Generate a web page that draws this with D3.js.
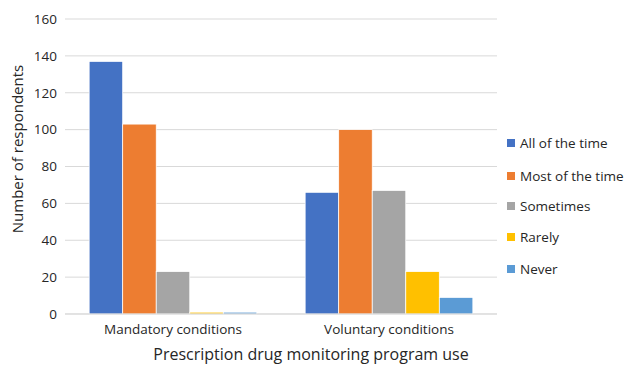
<!DOCTYPE html>
<html><head><meta charset="utf-8">
<script src="https://cdn.jsdelivr.net/npm/d3@7"></script>
<style>body{margin:0;background:#fff;} text{font-family:"Open Sans","Noto Sans",sans-serif;fill:#262626;}</style>
</head><body>
<svg id="c" width="628" height="367"></svg>
<script>
const categories = ["Mandatory conditions", "Voluntary conditions"];
const seriesNames = ["All of the time", "Most of the time", "Sometimes", "Rarely", "Never"];
const colors = ["#4472c4", "#ed7d31", "#a5a5a5", "#ffc000", "#5b9bd5"];
const values = [
  [137, 66],
  [103, 100],
  [23, 67],
  [1, 23],
  [1, 9]
];
const yTicks = [0, 20, 40, 60, 80, 100, 120, 140, 160];

const svg = d3.select("#c");
const m = {l: 65, r: 131, t: 19, b: 53};
const W = 628, H = 367;
const x0 = d3.scaleBand().domain(categories).range([m.l, W - m.r]);
const x1 = d3.scaleBand().domain(seriesNames).range([0, x0.bandwidth()]).paddingOuter(0.72);
const y = d3.scaleLinear().domain([0, 160]).range([H - m.b, m.t]);

svg.append("g").selectAll("line").data(yTicks).join("line")
  .attr("x1", m.l).attr("x2", W - m.r)
  .attr("y1", d => y(d)).attr("y2", d => y(d))
  .attr("stroke", "#d9d9d9").attr("stroke-width", 1);

const yAxis = d3.axisLeft(y).tickValues(yTicks).tickSize(0).tickPadding(8);
const gy = svg.append("g").attr("transform", `translate(${m.l},0)`).call(yAxis);
gy.select(".domain").remove();
gy.selectAll("text").style("font-size", "13.5px").attr("fill", "#262626");

const groups = svg.append("g").selectAll("g").data(categories).join("g")
  .attr("transform", d => `translate(${x0(d)},0)`);
groups.selectAll("rect").data((c, ci) => seriesNames.map((s, si) => ({s, si, v: values[si][ci]})))
  .join("rect")
  .attr("x", d => x1(d.s)).attr("width", x1.bandwidth())
  .attr("y", d => y(d.v)).attr("height", d => y(0) - y(d.v))
  .attr("fill", d => colors[d.si]).attr("stroke", "#fff").attr("stroke-width", 0.75);

svg.append("line").attr("x1", m.l).attr("x2", W - m.r).attr("y1", y(0)).attr("y2", y(0))
  .attr("stroke", "#d9d9d9");

const xAxis = d3.axisBottom(x0).tickSize(0).tickPadding(10);
const gx = svg.append("g").attr("transform", `translate(0,${y(0)})`).call(xAxis);
gx.select(".domain").remove();
gx.selectAll("text").style("font-size", "13.5px").attr("fill", "#262626");

svg.append("text").attr("x", 311).attr("y", 360).attr("text-anchor", "middle")
  .style("font-size", "16px").text("Prescription drug monitoring program use");
svg.append("text").attr("transform", `translate(23,149) rotate(-90)`)
  .attr("text-anchor", "middle").style("font-size", "15px").text("Number of respondents");

const legY = [143, 176, 206, 237, 269];
const leg = svg.append("g").selectAll("g").data(seriesNames).join("g")
  .attr("transform", (d, i) => `translate(507,${legY[i]})`);
leg.append("rect").attr("x", 0).attr("y", -4).attr("width", 8).attr("height", 8).attr("fill", (d, i) => colors[i]);
leg.append("text").attr("x", 13).attr("y", 0).attr("dy", "0.35em").style("font-size", "13.5px").attr("fill", "#262626").text(d => d);
</script>
</body></html>
